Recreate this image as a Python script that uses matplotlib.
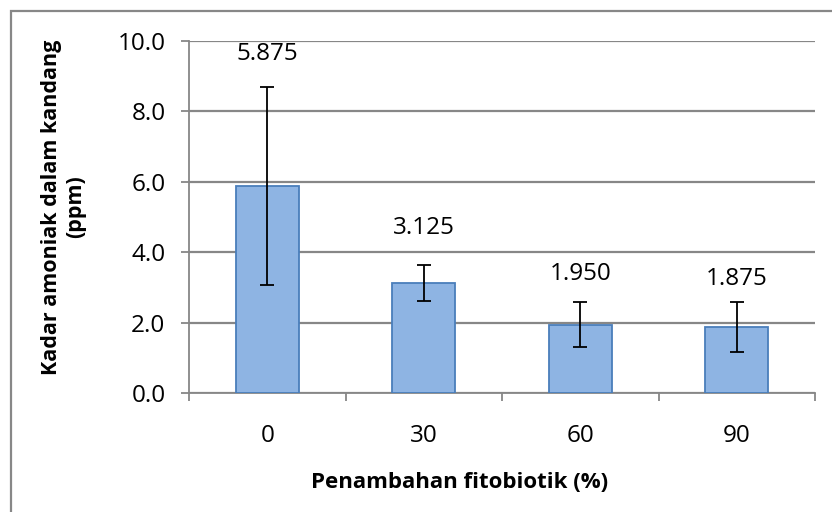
import numpy as np
import matplotlib
matplotlib.use('Agg')
import matplotlib.pyplot as plt
from matplotlib.patches import Rectangle

plt.rcParams['font.family'] = ['Open Sans', 'DejaVu Sans']

categories = ['0', '30', '60', '90']
kadar = [5.875, 3.125, 1.950, 1.875]
err = [2.81, 0.52, 0.65, 0.71]
label_pos = [9.62, 4.69, 3.38, 3.24]
y_ticks = [0, 2, 4, 6, 8, 10]

grey = '#878787'

fig = plt.figure(figsize=(8.32, 5.12), dpi=100)
ax = fig.add_axes([189/832, 1 - 393.3/512, 626/832, 352.6/512])

# outer chart frame (cut off at right and bottom like the source)
fig.patches.append(Rectangle((11/832, -0.1), 1.2, 0.1 + (512-11)/512,
                             transform=fig.transFigure, fill=False,
                             edgecolor=grey, linewidth=1.6))

x = np.arange(len(categories))
ax.bar(x, kadar, width=0.4, color='#8EB4E3', edgecolor='#4A7EBB',
       linewidth=1.3, zorder=3)
ax.errorbar(x, kadar, yerr=err, fmt='none', ecolor='black', elinewidth=1.3,
            capsize=5, capthick=1.3, zorder=4)

for xi, v, ly in zip(x, kadar, label_pos):
    ax.text(xi, ly, f'{v:.3f}', ha='center', va='center', fontsize=17.5, color='black')

ax.set_xlim(-0.5, len(categories) - 0.5)
ax.set_ylim(0, 10)
ax.set_yticks(y_ticks)
ax.set_yticklabels([f'{t:.1f}' for t in y_ticks])
ax.yaxis.grid(True, color=grey, linewidth=1.6, zorder=0)
ax.set_axisbelow(True)

ax.set_xticks(x)
ax.set_xticklabels(categories)
ax.set_xticks(np.arange(-0.5, len(categories)), minor=True)
ax.tick_params(axis='x', which='major', length=0, pad=22, labelsize=17.5)
ax.tick_params(axis='x', which='minor', length=6, width=1.3, color=grey, direction='out')
ax.tick_params(axis='y', length=6, width=1.3, color=grey, pad=11, labelsize=17.5)

for s in ['top', 'right']:
    ax.spines[s].set_visible(False)
for s in ['left', 'bottom']:
    ax.spines[s].set_color(grey)
    ax.spines[s].set_linewidth(1.3)

fig.text(460/832, 1 - 482/512, 'Penambahan fitobiotik (%)', ha='center', va='center',
         fontsize=16, fontweight='bold')
fig.text(64/832, 1 - 207/512, 'Kadar amoniak dalam kandang\n(ppm)', ha='center', va='center',
         rotation=90, fontsize=15.5, fontweight='bold', linespacing=1.2)

fig.savefig('out.png', dpi=100)
